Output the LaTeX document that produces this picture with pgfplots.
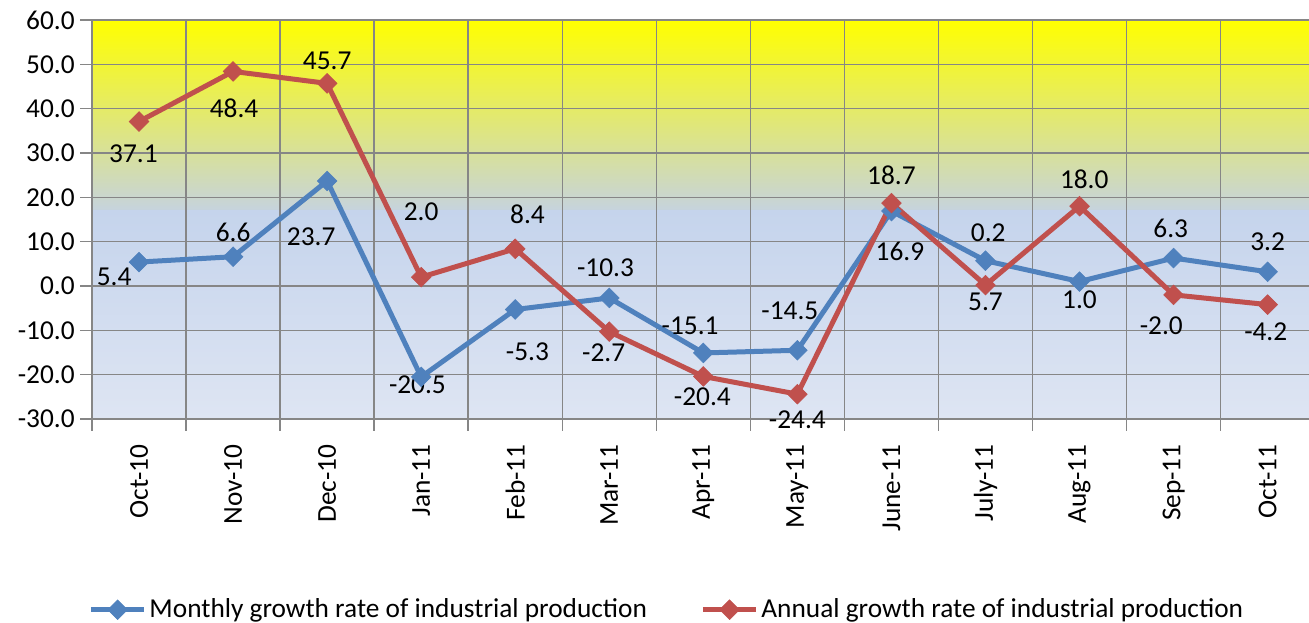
\documentclass[border=0pt]{standalone}
\usepackage{pgfplots}
\pgfplotsset{compat=1.18}
\usepackage{fontspec}
\setmainfont{Carlito}
\definecolor{sblue}{RGB}{79,129,189}
\definecolor{sred}{RGB}{192,80,77}
\definecolor{gridc}{RGB}{134,134,134}
\definecolor{ytop}{RGB}{255,255,0}
\definecolor{ybot}{RGB}{198,211,222}
\definecolor{btop}{RGB}{197,212,236}
\definecolor{bbot}{RGB}{222,229,243}
\pgfplotstableread{
x monthly annual
0 5.4 37.1
1 6.6 48.4
2 23.7 45.7
3 -20.5 2.0
4 -5.3 8.4
5 -2.7 -10.3
6 -15.1 -20.4
7 -14.5 -24.4
8 16.9 18.7
9 5.7 0.2
10 1.0 18.0
11 6.3 -2.0
12 3.2 -4.2
}\datatable
\begin{document}
\fontsize{20.5}{24.6}\selectfont
\begin{tikzpicture}
\begin{axis}[
  set layers,
  clip=false,
  scale only axis,
  width=912.75pt, height=299.25pt,
  xmin=-0.5, xmax=12.44, ymin=-30, ymax=60,
  axis x line*=bottom, axis y line*=left,
  axis line style={gridc, line width=1.1pt, -},
  tick align=outside,
  major tick length=9pt,
  tick style={gridc, line width=1.1pt},
  xmajorgrids, ymajorgrids,
  major grid style={gridc, line width=1.1pt},
  ytick={-30,-20,...,60},
  yticklabels={-30.0,-20.0,-10.0,0.0,10.0,20.0,30.0,40.0,50.0,60.0},
  yticklabel style={xshift=3pt},
  xtick={-0.5,0.5,...,11.5},
  xticklabels={Oct-10,Nov-10,Dec-10,Jan-11,Feb-11,Mar-11,Apr-11,May-11,June-11,July-11,Aug-11,Sep-11,Oct-11},
  xticklabel style={xshift=35.27pt, yshift=-3pt, rotate=90, anchor=east},
  legend style={at={(0.4726,-0.478)}, anchor=center, draw=none, fill=none,
    legend columns=2, /tikz/every even column/.append style={column sep=38pt}},
  legend cell align=left,
  legend image code/.code={\draw[mark repeat=2,mark phase=2,#1] plot coordinates {(0pt,0pt) (20pt,0pt) (40pt,0pt)};},
]
\begin{pgfonlayer}{axis background}
  \fill[top color=ytop, bottom color=ybot] (axis cs:-0.5,60) rectangle (axis cs:12.7,17);
  \fill[top color=btop, bottom color=bbot] (axis cs:-0.5,17) rectangle (axis cs:12.7,-30);
\end{pgfonlayer}
\coordinate (O) at (rel axis cs:0,0);
\addplot[sblue, line width=3.75pt, mark=square*, mark size=5.2pt, mark options={rotate=45, line width=0.5pt, solid}] table[x=x, y=monthly] {\datatable};
\addlegendentry{Monthly growth rate of industrial production}
\addplot[sred, line width=3.75pt, mark=square*, mark size=5.2pt, mark options={rotate=45, line width=0.5pt, solid}] table[x=x, y=annual] {\datatable};
\addlegendentry{Annual growth rate of industrial production}
% data labels (monthly)
\node at (axis cs:-0.265,2.0) {5.4};
\node at (axis cs:1.0,12.2) {6.6};
\node at (axis cs:1.83,11.1) {23.7};
\node at (axis cs:2.96,-22.3) {-20.5};
\node at (axis cs:4.13,-14.9) {-5.3};
\node at (axis cs:4.94,-15.1) {-2.7};
\node at (axis cs:5.86,-9.0) {-15.1};
\node at (axis cs:6.92,-5.6) {-14.5};
\node at (axis cs:8.09,7.7) {16.9};
\node at (axis cs:9.03,12.0) {0.2};
\node at (axis cs:9.0,-3.6) {5.7};
\node at (axis cs:10.0,-3.2) {1.0};
\node at (axis cs:10.97,13.0) {6.3};
\node at (axis cs:12.0,9.9) {3.2};
% data labels (annual)
\node at (axis cs:-0.06,29.8) {37.1};
\node at (axis cs:1.01,40.1) {48.4};
\node at (axis cs:2.0,50.8) {45.7};
\node at (axis cs:3.0,16.7) {2.0};
\node at (axis cs:4.13,16.2) {8.4};
\node at (axis cs:4.96,4.1) {-10.3};
\node at (axis cs:5.99,-25.0) {-20.4};
\node at (axis cs:7.0,-30.2) {-24.4};
\node at (axis cs:8.0,25.0) {18.7};
\node at (axis cs:10.05,24.1) {18.0};
\node at (axis cs:10.87,-9.0) {-2.0};
\node at (axis cs:11.98,-10.4) {-4.2};
\end{axis}
\pgfresetboundingbox
\path ([shift={(-69pt,-153pt)}]O) rectangle ([shift={(912.75pt,314.25pt)}]O);
\end{tikzpicture}
\end{document}
